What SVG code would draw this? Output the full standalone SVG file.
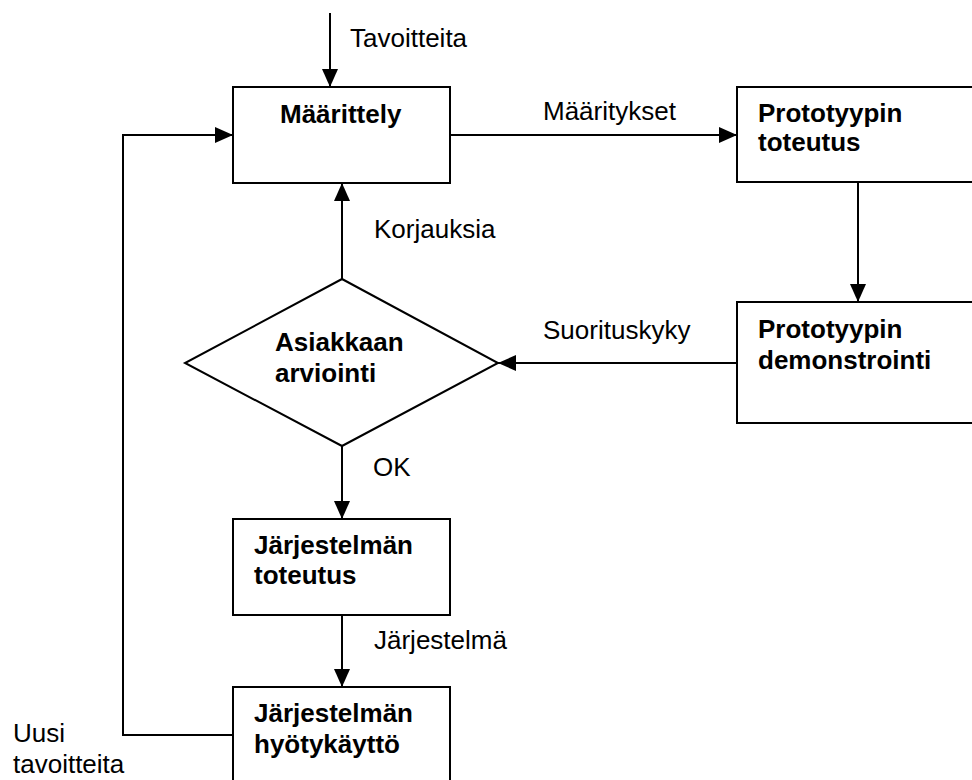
<svg xmlns="http://www.w3.org/2000/svg" width="972" height="780" viewBox="0 0 972 780">
  <style>
    .box { fill: #fff; stroke: #000; stroke-width: 2; }
    .wire { fill: none; stroke: #000; stroke-width: 2; }
    .lbl { font-family: "Liberation Sans", Arial, sans-serif; font-size: 26px; fill: #000; }
    .node { font-family: "Liberation Sans", Arial, sans-serif; font-size: 26px; font-weight: bold; fill: #000; }
  </style>
  <defs>
    <marker id="arrow" viewBox="0 0 18 16" refX="18" refY="8" markerWidth="18" markerHeight="16" markerUnits="userSpaceOnUse" orient="auto">
      <path d="M0,0 L18,8 L0,16 Z" fill="#000"/>
    </marker>
  </defs>
  <rect width="972" height="780" fill="#fff"/>

  <g id="connectors">
    <line class="wire" x1="330" y1="13" x2="330" y2="87" marker-end="url(#arrow)"/>
    <line class="wire" x1="450" y1="135" x2="737" y2="135" marker-end="url(#arrow)"/>
    <line class="wire" x1="858" y1="182" x2="858" y2="302" marker-end="url(#arrow)"/>
    <line class="wire" x1="737" y1="363" x2="498" y2="363" marker-end="url(#arrow)"/>
    <line class="wire" x1="342" y1="279" x2="342" y2="183" marker-end="url(#arrow)"/>
    <line class="wire" x1="342" y1="446" x2="342" y2="519" marker-end="url(#arrow)"/>
    <line class="wire" x1="342" y1="615" x2="342" y2="687" marker-end="url(#arrow)"/>
    <polyline class="wire" points="233,735 123,735 123,135 233,135" marker-end="url(#arrow)"/>
    <text class="lbl" x="350" y="47">Tavoitteita</text>
    <text class="lbl" x="543" y="120">Määritykset</text>
    <text class="lbl" x="374" y="238">Korjauksia</text>
    <text class="lbl" x="543" y="339">Suorituskyky</text>
    <text class="lbl" x="373" y="476">OK</text>
    <text class="lbl" x="374" y="649">Järjestelmä</text>
    <text class="lbl" x="13" y="742">Uusi</text>
    <text class="lbl" x="13" y="773">tavoitteita</text>
  </g>

  <g id="maarittely">
    <rect class="box" x="233" y="87" width="217" height="96"/>
    <text class="node" x="280" y="123">Määrittely</text>
  </g>

  <g id="prototyypin-toteutus">
    <rect class="box" x="737" y="87" width="260" height="95"/>
    <text class="node" x="758" y="122">Prototyypin</text>
    <text class="node" x="758" y="151">toteutus</text>
  </g>

  <g id="prototyypin-demonstrointi">
    <rect class="box" x="737" y="302" width="260" height="121"/>
    <text class="node" x="758" y="338">Prototyypin</text>
    <text class="node" x="758" y="369">demonstrointi</text>
  </g>

  <g id="asiakkaan-arviointi">
    <polygon class="box" points="342,279 498,363 342,446 185,363"/>
    <text class="node" x="275" y="351">Asiakkaan</text>
    <text class="node" x="275" y="382">arviointi</text>
  </g>

  <g id="jarjestelman-toteutus">
    <rect class="box" x="233" y="519" width="217" height="96"/>
    <text class="node" x="254" y="554">Järjestelmän</text>
    <text class="node" x="254" y="584">toteutus</text>
  </g>

  <g id="jarjestelman-hyotykaytto">
    <rect class="box" x="233" y="687" width="217" height="110"/>
    <text class="node" x="254" y="722">Järjestelmän</text>
    <text class="node" x="254" y="753">hyötykäyttö</text>
  </g>
</svg>
